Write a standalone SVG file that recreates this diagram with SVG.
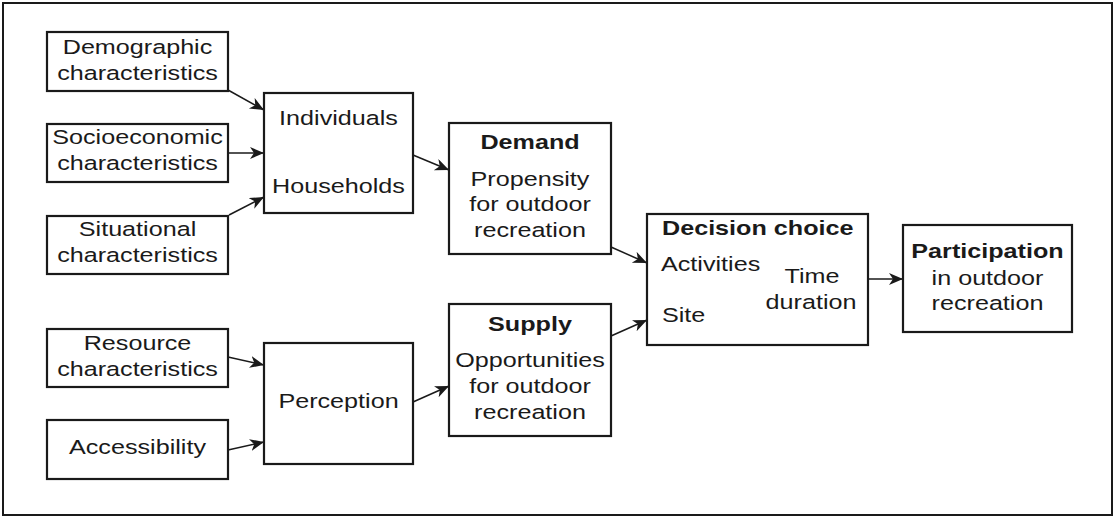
<svg xmlns="http://www.w3.org/2000/svg" width="1117" height="519" viewBox="0 0 1117 519">
<style>
.box{fill:#fff;stroke:#1a1a1a;stroke-width:2.2}
.frame{fill:#fff;stroke:#1a1a1a;stroke-width:2}
.t{font-family:"Liberation Sans",Arial,sans-serif;font-size:19.5px;fill:#1a1a1a;text-anchor:middle}
.s{text-anchor:start}
.b{font-weight:bold}
.c{fill:none;stroke:#1a1a1a;stroke-width:1.5;marker-end:url(#ah)}
</style>
<defs>
<marker id="ah" markerUnits="userSpaceOnUse" markerWidth="18" markerHeight="14" refX="14" refY="6" orient="auto">
<path d="M0,0 L14,6 L0,12 L4,6 z" fill="#1a1a1a"/>
</marker>
</defs>
<rect class="frame" x="3" y="3" width="1109" height="512"/>
<g id="connectors">
<line class="c" x1="228" y1="90" x2="264" y2="110"/>
<line class="c" x1="228" y1="153" x2="264" y2="153"/>
<line class="c" x1="229" y1="215" x2="264" y2="197"/>
<line class="c" x1="413" y1="155" x2="449" y2="170"/>
<line class="c" x1="228" y1="357" x2="264" y2="365"/>
<line class="c" x1="228" y1="450" x2="264" y2="442"/>
<line class="c" x1="413" y1="402" x2="449" y2="386"/>
<line class="c" x1="611" y1="247" x2="647" y2="263"/>
<line class="c" x1="611" y1="336" x2="647" y2="320"/>
<line class="c" x1="868" y1="279" x2="903" y2="279"/>
</g>
<g id="demographic">
<rect class="box" x="47" y="32" width="181" height="59"/>
<text class="t" transform="matrix(1.29 0 0 1 137.5 54)">Demographic</text>
<text class="t" transform="matrix(1.29 0 0 1 137.5 80)">characteristics</text>
</g>
<g id="socioeconomic">
<rect class="box" x="47" y="124" width="181" height="58"/>
<text class="t" transform="matrix(1.29 0 0 1 137.5 144)">Socioeconomic</text>
<text class="t" transform="matrix(1.29 0 0 1 137.5 170)">characteristics</text>
</g>
<g id="situational">
<rect class="box" x="47" y="216" width="181" height="58"/>
<text class="t" transform="matrix(1.29 0 0 1 137.5 236)">Situational</text>
<text class="t" transform="matrix(1.29 0 0 1 137.5 262)">characteristics</text>
</g>
<g id="individuals">
<rect class="box" x="264" y="93" width="149" height="120"/>
<text class="t" transform="matrix(1.29 0 0 1 338.5 125)">Individuals</text>
<text class="t" transform="matrix(1.29 0 0 1 338.5 193)">Households</text>
</g>
<g id="resource">
<rect class="box" x="47" y="329" width="181" height="58"/>
<text class="t" transform="matrix(1.29 0 0 1 137.5 350)">Resource</text>
<text class="t" transform="matrix(1.29 0 0 1 137.5 376)">characteristics</text>
</g>
<g id="accessibility">
<rect class="box" x="47" y="420" width="181" height="59"/>
<text class="t" transform="matrix(1.29 0 0 1 137.5 454)">Accessibility</text>
</g>
<g id="perception">
<rect class="box" x="264" y="343" width="149" height="121"/>
<text class="t" transform="matrix(1.29 0 0 1 338.5 408)">Perception</text>
</g>
<g id="demand">
<rect class="box" x="449" y="123" width="162" height="131"/>
<text class="t b" transform="matrix(1.29 0 0 1 530 149)">Demand</text>
<text class="t" transform="matrix(1.29 0 0 1 530 186)">Propensity</text>
<text class="t" transform="matrix(1.29 0 0 1 530 211)">for outdoor</text>
<text class="t" transform="matrix(1.29 0 0 1 530 237)">recreation</text>
</g>
<g id="supply">
<rect class="box" x="449" y="304" width="162" height="132"/>
<text class="t b" transform="matrix(1.29 0 0 1 530 331)">Supply</text>
<text class="t" transform="matrix(1.29 0 0 1 530 367)">Opportunities</text>
<text class="t" transform="matrix(1.29 0 0 1 530 393)">for outdoor</text>
<text class="t" transform="matrix(1.29 0 0 1 530 419)">recreation</text>
</g>
<g id="decision">
<rect class="box" x="647" y="214" width="221" height="131"/>
<text class="t b s" transform="matrix(1.29 0 0 1 662 235)">Decision choice</text>
<text class="t s" transform="matrix(1.29 0 0 1 661 271)">Activities</text>
<text class="t s" transform="matrix(1.29 0 0 1 662 322)">Site</text>
<text class="t" transform="matrix(1.29 0 0 1 812 283)">Time</text>
<text class="t" transform="matrix(1.29 0 0 1 811 309)">duration</text>
</g>
<g id="participation">
<rect class="box" x="903" y="225" width="169" height="107"/>
<text class="t b" transform="matrix(1.29 0 0 1 987.5 258)">Participation</text>
<text class="t" transform="matrix(1.29 0 0 1 987.5 285)">in outdoor</text>
<text class="t" transform="matrix(1.29 0 0 1 987.5 310)">recreation</text>
</g>
</svg>
